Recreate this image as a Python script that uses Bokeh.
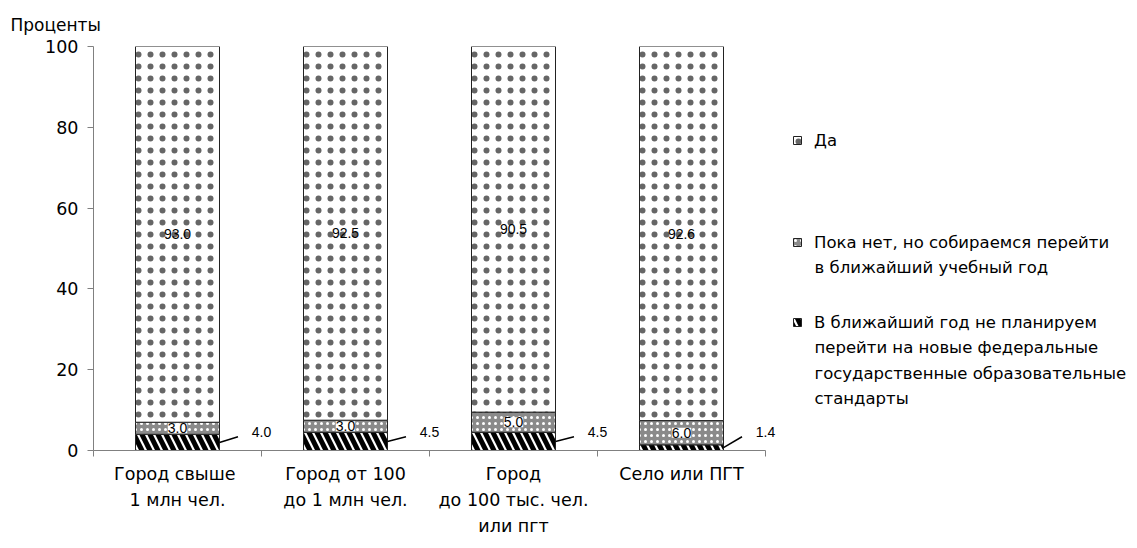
from bokeh.plotting import figure
from bokeh.models import Range1d, FixedTicker, Legend, LegendItem, ColumnDataSource, LabelSet, Label
from bokeh.core.properties import value
from bokeh.embed import file_html
from bokeh.resources import INLINE

categories = ["Город  свыше\n1 млн чел.", "Город от 100\nдо 1 млн чел.",
              "Город\nдо 100 тыс. чел.\nили пгт", "Село или ПГТ"]
not_planning = [4.0, 4.5, 4.5, 1.4]
soon = [3.0, 3.0, 5.0, 6.0]
yes = [93.0, 92.5, 90.5, 92.6]
series_names = ["Да",
                "Пока нет, но собираемся перейти\nв ближайший учебный год",
                "В ближайший год не планируем\nперейти на новые федеральные\nгосударственные образовательные\nстандарты"]
y_ticks = [0, 20, 40, 60, 80, 100]
y_label = "Проценты"

FONT = "DejaVu Sans"
NUMFONT = "Liberation Sans"

n = len(categories)
xc = [i + 0.5 for i in range(n)]
b1 = [0.0] * n
t1 = [a for a in not_planning]
t2 = [a + b for a, b in zip(not_planning, soon)]
t3 = [a + b for a, b in zip(t2, yes)]

FW, FH = 1040, 404
PX_X = 672 / n      # pixels per category
PX_Y = FH / 100.0   # pixels per percent
p = figure(frame_width=FW, frame_height=FH, min_border_left=93, min_border_right=0,
           min_border_top=46, min_border_bottom=90, output_backend="svg",
           toolbar_location=None, x_range=Range1d(0, FW / PX_X), y_range=Range1d(0, 100))
p.outline_line_color = None
p.grid.visible = False
p.background_fill_color = "white"

src = ColumnDataSource(dict(x=xc, b1=b1, t1=t1, t2=t2, t3=t3))

r_no = p.vbar(x="x", bottom="b1", top="t1", width=0.5, source=src, fill_color="white",
              line_color="#222222", line_width=1, hatch_pattern="left_diagonal_line",
              hatch_color="black", hatch_weight=5, hatch_scale=16)
r_soon = p.vbar(x="x", bottom="t1", top="t2", width=0.5, source=src, fill_color="#8a8a8a",
                line_color="#222222", line_width=1, hatch_pattern="dot",
                hatch_color="white", hatch_weight=1, hatch_scale=6)
r_yes = p.vbar(x="x", bottom="t2", top="t3", width=0.5, source=src, fill_color="white",
               line_color="#222222", line_width=1, hatch_pattern="dot",
               hatch_color="#666666", hatch_weight=1.5, hatch_scale=12)

# value labels
yes_src = ColumnDataSource(dict(x=xc, y=[a + b / 2 for a, b in zip(t2, yes)],
                                t=["%.1f" % v for v in yes]))
p.add_layout(LabelSet(x="x", y="y", text="t", source=yes_src, text_align="center",
                      text_baseline="middle", text_font=value(NUMFONT), text_font_size="14px",
                      text_color="black"))
soon_src = ColumnDataSource(dict(x=xc, y=[a + b / 2 for a, b in zip(t1, soon)],
                                 t=["%.1f" % v for v in soon]))
p.add_layout(LabelSet(x="x", y="y", text="t", source=soon_src, text_align="center",
                      text_baseline="middle", text_font=value(NUMFONT), text_font_size="14px",
                      text_color="black", background_fill_color="white"))
# external labels for lowest segment
p.segment(x0=[x + 0.25 for x in xc], y0=[v / 2 for v in not_planning],
          x1=[x + 0.36 for x in xc], y1=[3.4] * n, line_color="black", line_width=1.5)
no_src = ColumnDataSource(dict(x=[x + 0.5 for x in xc], y=[4.7] * n,
                               t=["%.1f" % v for v in not_planning]))
p.add_layout(LabelSet(x="x", y="y", text="t", source=no_src, text_align="center",
                      text_baseline="middle", text_font=value(NUMFONT), text_font_size="14px",
                      text_color="black"))

# axes
p.yaxis.ticker = FixedTicker(ticks=y_ticks)
p.yaxis.minor_tick_line_color = None
p.yaxis.major_tick_out = 6
p.yaxis.major_tick_in = 0
p.yaxis.axis_line_color = "#808080"
p.yaxis.major_tick_line_color = "#808080"
p.yaxis.major_label_text_font = FONT
p.yaxis.major_label_text_font_size = "17.5px"
p.yaxis.major_label_text_color = "black"
p.yaxis.major_label_standoff = 9

p.xaxis.bounds = (0, n)
p.xaxis.ticker = FixedTicker(ticks=xc, minor_ticks=list(range(n + 1)))
p.xaxis.major_label_overrides = {x: c for x, c in zip(xc, categories)}
p.xaxis.major_tick_out = 0
p.xaxis.major_tick_in = 0
p.xaxis.minor_tick_out = 6
p.xaxis.minor_tick_in = 0
p.xaxis.axis_line_color = "#808080"
p.xaxis.minor_tick_line_color = "#808080"
p.xaxis.major_label_text_font = FONT
p.xaxis.major_label_text_font_size = "17.5px"
p.xaxis.major_label_text_color = "black"
p.xaxis.major_label_text_line_height = 1.3
p.xaxis.major_label_standoff = 7

p.title.text = y_label
p.title.align = "left"
p.title.offset = -83
p.title.text_font = FONT
p.title.text_font_size = "17px"
p.title.text_font_style = "normal"
p.title.text_color = "black"
p.title.standoff = 24

# legends: glyph + first line as a legend, following lines as labels
renderers = [r_yes, r_soon, r_no]
first_line_px = [140, 242, 322]   # vertical position of each entry's first line (from top)
LINE_STEP = 25.3                  # pixels between lines
LEG_LEFT = 699                    # glyph left edge, pixels from frame left
for r, name, top in zip(renderers, series_names, first_line_px):
    lines = name.split("\n")
    lg = Legend(items=[LegendItem(label=lines[0], renderers=[r])],
                location=(LEG_LEFT, FH - (top - 46) - 10),
                glyph_width=10, glyph_height=10, label_standoff=12, padding=0,
                label_height=20, border_line_color=None, background_fill_alpha=0,
                label_text_font=FONT, label_text_font_size="16.5px",
                label_text_color="black")
    p.add_layout(lg, "center")
    for k, line in enumerate(lines[1:], start=1):
        ypx = top + k * LINE_STEP
        p.add_layout(Label(x=(LEG_LEFT + 22) / PX_X, y=(450 - ypx) / PX_Y, text=line,
                           text_font=FONT, text_font_size="16.5px", text_color="black",
                           text_baseline="middle", text_align="left"))

open("out.html", "w").write(file_html(p, INLINE))
